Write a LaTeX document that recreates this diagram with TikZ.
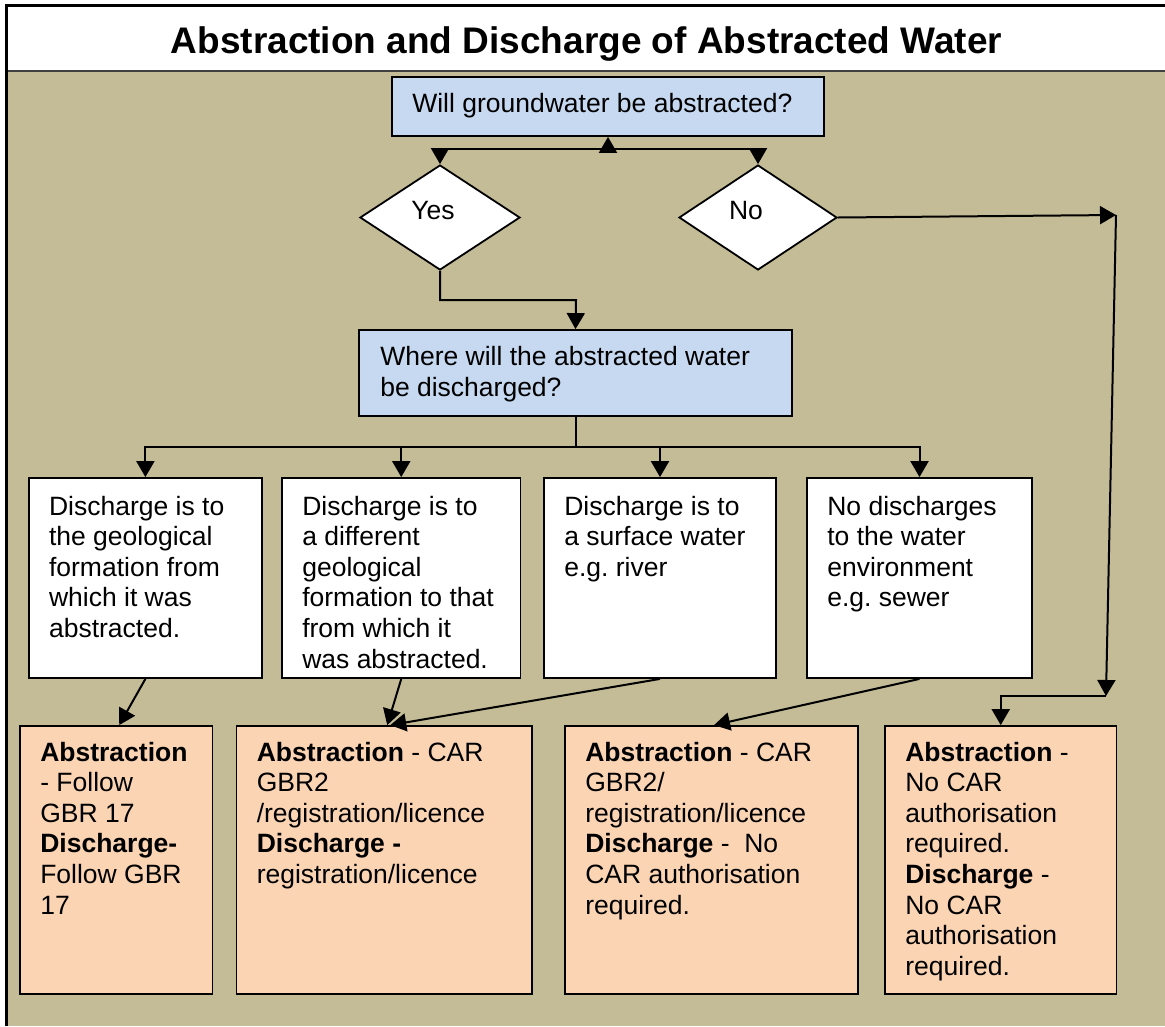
\documentclass[tikz,border=0pt]{standalone}
\usepackage{fontspec}
\setmainfont{Liberation Sans}
\usetikzlibrary{arrows.meta,shapes.geometric,calc}
\definecolor{khaki}{HTML}{C4BC96}
\definecolor{bluebox}{HTML}{C6D9F1}
\definecolor{peach}{HTML}{FBD4B4}
\frenchspacing
\begin{document}
\begin{tikzpicture}[x=1pt,y=-1pt,
  conn/.style={line width=2pt, -{Triangle[width=18pt,length=16pt]}},
  plain/.style={line width=2pt},
  boxbase/.style={draw=black, line width=1.8pt, inner sep=0pt, rectangle},
  qbox/.style={boxbase, fill=bluebox},
  wbox/.style={boxbase, fill=white},
  obox/.style={boxbase, fill=peach},
  dbox/.style={draw=black, line width=1.8pt, fill=white, diamond, inner sep=0pt},
  txt/.style={anchor=north west, inner sep=0pt, align=left, font=\fontsize{26.5}{30.6}\selectfont},
  lbl/.style={inner sep=0pt, font=\fontsize{26.5}{30.6}\selectfont},
]
\useasboundingbox (0,0) rectangle (1165,1026);
\fill[white] (0,0) rectangle (1165,1026);
\fill[khaki] (6.5,71) rectangle (1165,1026);
\draw[line width=1.5pt, black!75] (6.5,71) -- (1165,71);
\draw[line width=2.5pt] (6.5,1026) -- (6.5,5.5) -- (1165,5.5);

\node[anchor=base, inner sep=0pt, font=\bfseries\fontsize{37}{40}\selectfont] (title) at (586.5,53) {Abstraction and Discharge of Abstracted Water};

% question boxes
\node[qbox, minimum width=432pt, minimum height=59pt] (b1) at (608,106.5) {};
\node[qbox, minimum width=433pt, minimum height=86pt] (b2) at (575.5,373) {};
\node[txt] (t1) at ($(b1.north west)+(21,17)$) {Will groundwater be abstracted?};
\node[txt] (t2) at ($(b2.north west)+(22,17)$) {Where will the abstracted water\\be discharged?};

% diamonds
\node[dbox, minimum width=160pt, minimum height=105pt] (yes) at (440,217.5) {};
\node[dbox, minimum width=158pt, minimum height=105pt] (no) at (758,217.5) {};
\node[lbl] (ly) at (433,211) {Yes};
\node[lbl] (ln) at (746,211) {No};

% white boxes
\node[wbox, minimum width=233.3pt, minimum height=200pt] (w1) at (145.4,578) {};
\node[wbox, minimum width=238.5pt, minimum height=200pt] (w2) at (401.25,578) {};
\node[wbox, minimum width=232pt, minimum height=200pt] (w3) at (660,578) {};
\node[wbox, minimum width=225pt, minimum height=200pt] (w4) at (919.5,578) {};
\node[txt] (tw1) at ($(w1.north west)+(21,18.5)$) {Discharge is to\\the geological\\formation from\\which it was\\abstracted.};
\node[txt] (tw2) at ($(w2.north west)+(21,18.5)$) {Discharge is to\\a different\\geological\\formation to that\\from which it\\was abstracted.};
\node[txt] (tw3) at ($(w3.north west)+(21,18.5)$) {Discharge is to\\a surface water\\e.g. river};
\node[txt] (tw4) at ($(w4.north west)+(21,18.5)$) {No discharges\\to the water\\environment\\e.g. sewer};

% outcome boxes
\node[obox, minimum width=192.5pt, minimum height=268pt] (o1) at (116.25,860) {};
\node[obox, minimum width=295.5pt, minimum height=268pt] (o2) at (384.25,860) {};
\node[obox, minimum width=293pt, minimum height=268pt] (o3) at (711.5,860) {};
\node[obox, minimum width=231.5pt, minimum height=268pt] (o4) at (1000.75,860) {};
\node[txt] (to1) at ($(o1.north west)+(21,16.5)$) {\textbf{Abstraction}\\- Follow\\GBR 17\\\textbf{Discharge-}\\Follow GBR\\17};
\node[txt] (to2) at ($(o2.north west)+(21,16.5)$) {\textbf{Abstraction} - CAR\\GBR2\\/registration/licence\\\textbf{Discharge -}\\registration/licence};
\node[txt] (to3) at ($(o3.north west)+(21,16.5)$) {\textbf{Abstraction} - CAR\\GBR2/\\registration/licence\\\textbf{Discharge} -\ \ No\\CAR authorisation\\required.};
\node[txt] (to4) at ($(o4.north west)+(21,16.5)$) {\textbf{Abstraction} -\\No CAR\\authorisation\\required.\\\textbf{Discharge} -\\No CAR\\authorisation\\required.};

% junction coordinates
\coordinate (jT) at (608,149);
\coordinate (jY) at (576,300);
\coordinate (jB) at (575.5,447);
\coordinate (nR) at (1116,215);
\coordinate (nB) at (1106,696);

% connectors
\draw[conn] (jT) -- (b1.south);
\draw[conn] (jT) -| (yes.north);
\draw[conn] (jT) -| (no.north);
\draw[conn] (yes.south) |- (jY) -- (b2.north);
\draw[plain] (b2.south) -- (jB);
\draw[conn] (jB) -| (w1.north);
\draw[conn] (jB) -| (w2.north);
\draw[conn] (jB) -| (w3.north);
\draw[conn] (jB) -| (w4.north);
\draw[conn] (no.east) -- (nR);
\draw[conn] (nR) -- (nB);
\draw[conn] (nB) -| (o4.north);
\draw[conn] (w1.south) -- ([xshift=3pt]o1.north);
\draw[conn] (w2.south) -- ([xshift=3pt]o2.north);
\draw[conn] (w3.south) -- ([xshift=6pt]o2.north);
\draw[conn] (w4.south) -- ([xshift=2.5pt]o3.north);
\end{tikzpicture}
\end{document}
